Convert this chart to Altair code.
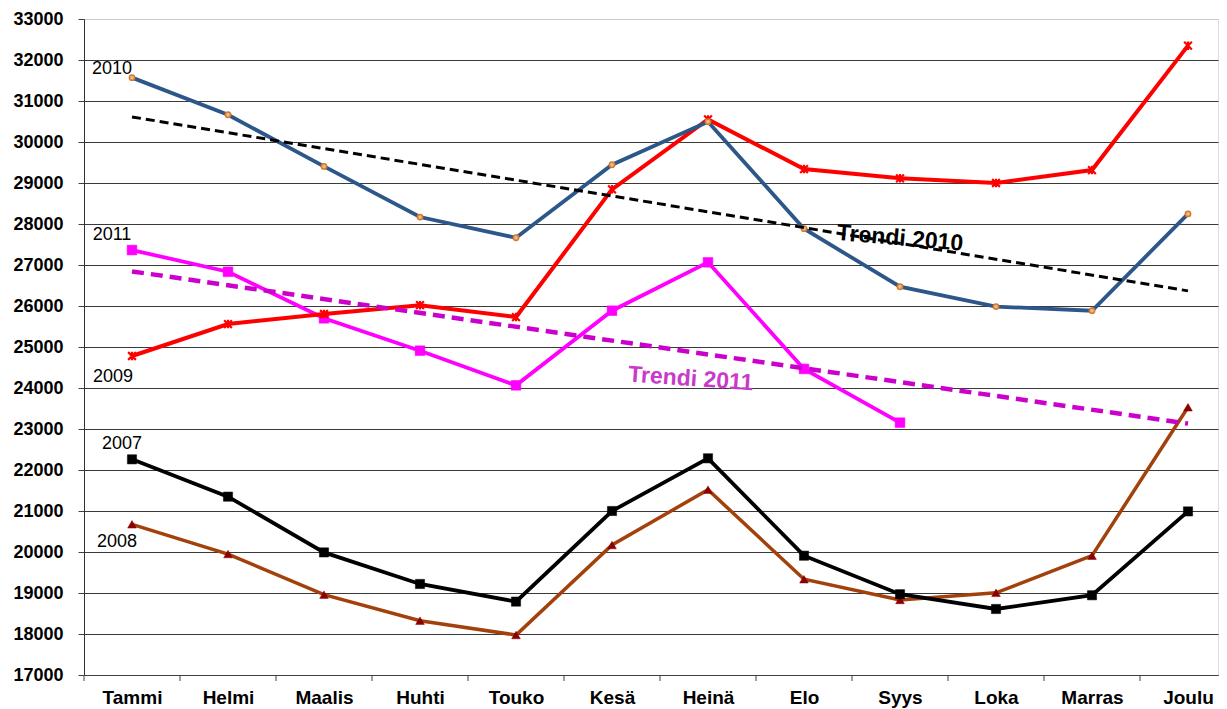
import json
import altair as alt
import pandas as pd

months = ["Tammi", "Helmi", "Maalis", "Huhti", "Touko", "Kesä",
          "Heinä", "Elo", "Syys", "Loka", "Marras", "Joulu"]

v2007 = [22260, 21350, 19990, 19220, 18790, 21000, 22285, 19910, 18970, 18610, 18945, 20990]
v2008 = [20675, 19950, 18960, 18325, 17975, 20170, 21520, 19335, 18830, 19005, 19910, 23530]
v2009 = [24780, 25560, 25805, 26020, 25730, 28845, 30550, 29340, 29115, 29000, 29315, 32350]
v2010 = [31570, 30665, 29405, 28170, 27665, 29445, 30495, 27885, 26470, 25985, 25885, 28245]
v2011 = [27365, 26835, 25700, 24910, 24065, 25885, 27065, 24465, 23155, None, None, None]

y_ticks = list(range(17000, 33001, 1000))

series = [("2008", v2008), ("2007", v2007), ("2011", v2011), ("2009", v2009), ("2010", v2010)]

rows = []
for name, vals in series:
    for i, v in enumerate(vals):
        if v is not None:
            rows.append({"i": i, "month": months[i], "series": name, "value": v})
df = pd.DataFrame(rows)
ticks_df = pd.DataFrame({"i": list(range(len(months)))})

FONT = "Liberation Sans"

x_scale = alt.Scale(domain=[-0.5, 11.3125], nice=False, zero=False)
y_scale = alt.Scale(domain=[17000, 33000], nice=False, zero=False)

x_axis = alt.Axis(
    values=list(range(len(months))),
    labelExpr=json.dumps(months, ensure_ascii=False) + "[datum.value]",
    title=None, grid=False, ticks=False,
    domainColor="#404040", domainWidth=1,
    labelFont=FONT, labelFontSize=19, labelFontWeight="bold", labelColor="black",
    labelPadding=13, labelOverlap=False, labelFlush=False, labelBound=False,
)
y_axis = alt.Axis(
    values=y_ticks, title=None, format="d",
    grid=True,
    gridColor=alt.condition("datum.value == 33000", alt.value("#c8c8c8"), alt.value("#3a3a3a")),
    gridWidth=1,
    tickSize=6, tickColor="#404040", domainColor="#303030", domainWidth=1,
    labelFont=FONT, labelFontSize=18, labelFontWeight="bold", labelColor="black",
    labelPadding=15,
)

X = alt.X("i:Q", scale=x_scale, axis=x_axis)
Y = alt.Y("value:Q", scale=y_scale, axis=y_axis)

STAR = "M-1,-1L1,1M-1,1L1,-1M0,-1.1L0,1.1"
style = {
    "2008": dict(line="#A3410C", width=3.5, shape="triangle-up", size=75, fill="#8B0000", stroke="#8B0000", sw=0.5),
    "2007": dict(line="#000000", width=3.8, shape="square", size=85, fill="#000000", stroke="#000000", sw=0.5),
    "2011": dict(line="#FF00FF", width=3.8, shape="square", size=95, fill="#FF00FF", stroke="#FF00FF", sw=0.5),
    "2009": dict(line="#FF0000", width=4.0, shape=STAR, size=60, fill="#FF0000", stroke="#FF0000", sw=2.2),
    "2010": dict(line="#2D5689", width=3.8, shape="circle", size=28, fill="#F0B77E", stroke="#D27A2E", sw=1.5),
}

layers = []
for name, _ in series:
    s = style[name]
    sub = alt.Chart(df).transform_filter(alt.datum.series == name)
    layers.append(sub.mark_line(color=s["line"], strokeWidth=s["width"]).encode(x=X, y=Y))
    layers.append(sub.mark_point(shape=s["shape"], size=s["size"], filled=s["shape"] != STAR,
                                 fill=s["fill"], stroke=s["stroke"], strokeWidth=s["sw"], opacity=1)
                  .encode(x=X, y=Y))

# trend lines (linear regression computed by Vega-Lite)
trend10 = (alt.Chart(df).transform_filter(alt.datum.series == "2010")
           .transform_regression("i", "value", extent=[0, 11])
           .mark_line(color="black", strokeWidth=3, strokeDash=[9, 5])
           .encode(x=X, y=Y))
trend11 = (alt.Chart(df).transform_filter(alt.datum.series == "2011")
           .transform_regression("i", "value", extent=[0, 11])
           .mark_line(color="#CC00CC", strokeWidth=4.5, strokeDash=[12, 7])
           .encode(x=X, y=Y))
layers += [trend10, trend11]

# x-axis tick marks between categories
tick_layer = (alt.Chart(ticks_df).transform_calculate(t="datum.i - 0.5")
              .mark_rule(color="#404040", strokeWidth=1)
              .encode(x=alt.X("t:Q", scale=x_scale, axis=x_axis), y=alt.value(656), y2=alt.value(662)))
layers.append(tick_layer)

# year labels anchored to the first point of each series
offsets = {"2010": (-20, -9), "2011": (-20, -15), "2009": (-19, 21), "2007": (-10, -15), "2008": (-15, 18)}
for name, (dx, dy) in offsets.items():
    layers.append(
        alt.Chart(df).transform_filter((alt.datum.series == name) & (alt.datum.i == 0))
        .mark_text(font=FONT, fontSize=18, color="black", dx=dx, dy=dy, align="center", baseline="middle")
        .encode(x=X, y=Y, text="series:N")
    )

trend_lbl10 = (alt.Chart(pd.DataFrame({"t": ["Trendi 2010"]}))
               .mark_text(font=FONT, fontSize=23, fontWeight="bold", color="black", angle=5,
                          align="center", baseline="middle")
               .encode(x=alt.datum(8.0, scale=x_scale), y=alt.datum(27650, scale=y_scale), text="t:N"))
trend_lbl11 = (alt.Chart(pd.DataFrame({"t": ["Trendi 2011"]}))
               .mark_text(font=FONT, fontSize=23, fontWeight="bold", color="#C83AC8", angle=4,
                          align="center", baseline="middle")
               .encode(x=alt.datum(5.82, scale=x_scale), y=alt.datum(24220, scale=y_scale), text="t:N"))
layers += [trend_lbl10, trend_lbl11]

chart = (alt.layer(*layers)
         .properties(width=1134, height=656,
                     autosize=alt.AutoSizeParams(type="none"),
                     padding={"left": 76, "top": 11, "right": 1, "bottom": 33})
         .configure_view(stroke=None)
         .configure(background="white"))

chart.save("out.html", embed_options={"renderer": "svg", "actions": False})
